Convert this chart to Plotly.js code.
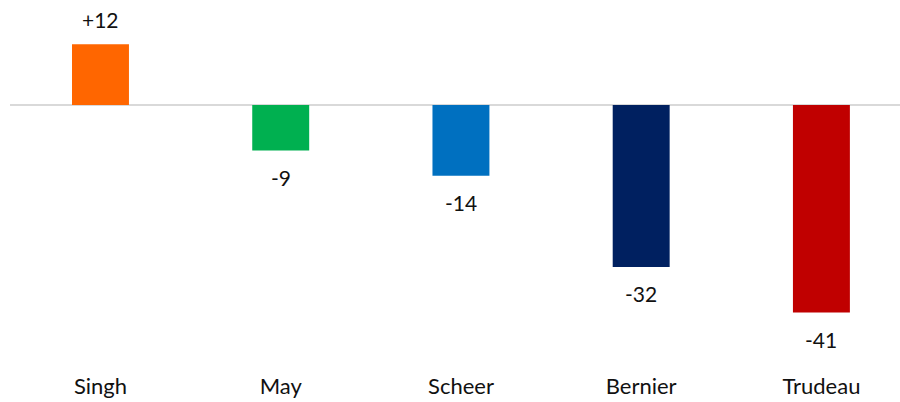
<!DOCTYPE html>
<html>
<head>
<meta charset="utf-8">
<script src="https://cdn.plot.ly/plotly-3.0.1.min.js"></script>
<style>html,body{margin:0;padding:0;background:#fff;}#chart{width:900px;height:402px;}</style>
</head>
<body>
<div id="chart"></div>
<script>
const leaders = ["Singh", "May", "Scheer", "Bernier", "Trudeau"];
const netScores = [12, -9, -14, -32, -41];
const scoreLabels = ["+12", "-9", "-14", "-32", "-41"];
const barColors = ["#FF6600", "#00B050", "#0070C0", "#002060", "#C00000"];

const FONT = "Lato, 'Open Sans', sans-serif";

const annotations = leaders.map((l, i) => ({
  x: l, y: netScores[i], xref: "x", yref: "y",
  text: scoreLabels[i], showarrow: false,
  yanchor: "middle", yshift: netScores[i] >= 0 ? 25 : -27,
  font: {family: FONT, size: 21, color: "#111"}
}));

const trace = {
  type: "bar",
  x: leaders,
  y: netScores,
  width: 0.316,
  marker: {color: barColors},
  hoverinfo: "none"
};

const layout = {
  width: 900, height: 402,
  margin: {l: 10, r: 0, t: 0, b: 40},
  paper_bgcolor: "#fff", plot_bgcolor: "#fff",
  showlegend: false,
  xaxis: {
    type: "category",
    range: [-0.502, 4.436],
    showgrid: false, zeroline: false, showline: false,
    ticks: "", ticklabelstandoff: 9,
    tickfont: {family: FONT, size: 22, color: "#111"},
    fixedrange: true
  },
  yaxis: {
    range: [-50.79, 20.75],
    showgrid: false, showticklabels: false, ticks: "",
    zeroline: true, zerolinecolor: "#D9D9D9", zerolinewidth: 2,
    showline: false, fixedrange: true
  },
  annotations: annotations
};

Plotly.newPlot("chart", [trace], layout, {displayModeBar: false, staticPlot: true});
</script>
</body>
</html>
